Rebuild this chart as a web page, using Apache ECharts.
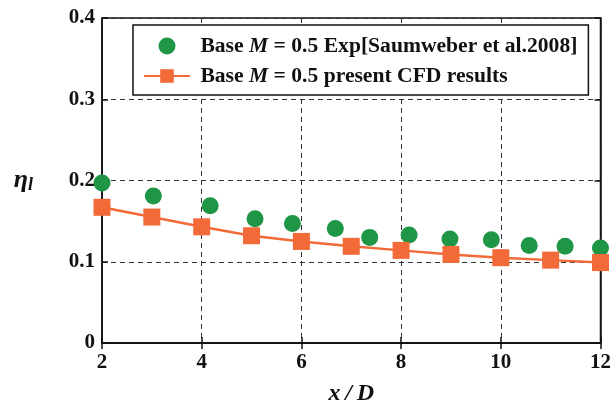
<!DOCTYPE html>
<html><head><meta charset="utf-8">
<script src="https://cdn.jsdelivr.net/npm/echarts@6/dist/echarts.min.js"></script>
<style>html,body{margin:0;padding:0;background:#fff}#c{width:614px;height:411px}</style>
</head><body><div id="c"></div>
<script>
const expX = [2.0, 3.03, 4.17, 5.07, 5.82, 6.68, 7.37, 8.16, 8.98, 9.81, 10.57, 11.29, 12.0];
const expY = [0.197, 0.181, 0.169, 0.153, 0.147, 0.141, 0.130, 0.133, 0.128, 0.127, 0.120, 0.119, 0.117];
const cfdX = [2, 3, 4, 5, 6, 7, 8, 9, 10, 11, 12];
const cfdY = [0.167, 0.155, 0.143, 0.132, 0.125, 0.119, 0.114, 0.109, 0.105, 0.102, 0.099];
const seriesNames = ['Base M = 0.5 Exp[Saumweber et al.2008]', 'Base M = 0.5 present CFD results'];

const serif = '"Liberation Serif", "DejaVu Serif", serif';
const chart = echarts.init(document.getElementById('c'));
const axLabel = {fontFamily: serif, fontWeight: 'bold', fontSize: 21, color: '#111'};
const dashed = {show: true, lineStyle: {color: '#333', type: [5, 4], width: 1}};
const LF = 21.6;
chart.setOption({
  animation: false,
  backgroundColor: '#fff',
  grid: {left: 102, right: 12, top: 18, bottom: 64, show: true, borderColor: '#111', borderWidth: 1.5},
  legend: {
    orient: 'vertical', left: 133, top: 25,
    backgroundColor: '#fff', borderColor: '#111', borderWidth: 1.5,
    padding: [10, 11, 8, 10], itemGap: 8, itemWidth: 46, itemHeight: 17,
    data: seriesNames,
    formatter: function (n) {
      return n.replace('Base M', '{b| Base }{i|M}{b|').replace(/$/, '}');
    },
    textStyle: {
      fontFamily: serif, fontWeight: 'bold', fontSize: LF, color: '#111', lineHeight: 20,
      rich: {
        b: {fontFamily: serif, fontWeight: 'bold', fontSize: LF, color: '#111', lineHeight: 20},
        i: {fontFamily: serif, fontWeight: 'bold', fontStyle: 'italic', fontSize: LF, color: '#111', lineHeight: 20}
      }
    }
  },
  xAxis: [{
    type: 'value', min: 2, max: 12, interval: 2,
    axisLine: {show: true, lineStyle: {color: '#111', width: 1.5}},
    axisTick: {show: true, inside: true, length: 6, lineStyle: {color: '#111', width: 1.5}},
    axisLabel: Object.assign({margin: 9}, axLabel),
    splitLine: dashed,
    name: '{n|x\u2009/\u2009D}', nameLocation: 'middle', nameGap: 39,
    nameTextStyle: {rich: {n: {fontFamily: serif, fontWeight: 'bold', fontStyle: 'italic', fontSize: 24, color: '#111'}}}
  }, {
    type: 'value', min: 2, max: 12, interval: 2, position: 'top',
    axisLine: {show: true, lineStyle: {color: '#111', width: 1.5}},
    axisTick: {show: true, inside: true, length: 6, lineStyle: {color: '#111', width: 1.5}},
    axisLabel: {show: false}, splitLine: {show: false}
  }],
  yAxis: [{
    type: 'value', min: 0, max: 0.4, interval: 0.1,
    axisLine: {show: true, lineStyle: {color: '#111', width: 1.5}},
    axisTick: {show: true, inside: true, length: 6, lineStyle: {color: '#111', width: 1.5}},
    axisLabel: Object.assign({margin: 7}, axLabel),
    splitLine: dashed,
    name: '{a|η}{s|l}', nameLocation: 'middle', nameRotate: 0, nameGap: 69,
    nameTextStyle: {rich: {
      a: {fontFamily: serif, fontWeight: 'bold', fontStyle: 'italic', fontSize: 26, color: '#111'},
      s: {fontFamily: serif, fontWeight: 'bold', fontStyle: 'italic', fontSize: 18, color: '#111', padding: [10, 0, 0, 0]}
    }}
  }, {
    type: 'value', min: 0, max: 0.4, interval: 0.1, position: 'right',
    axisLine: {show: true, lineStyle: {color: '#111', width: 1.5}},
    axisTick: {show: true, inside: true, length: 6, lineStyle: {color: '#111', width: 1.5}},
    axisLabel: {show: false}, splitLine: {show: false}
  }],
  series: [{
    name: seriesNames[0], type: 'scatter', symbol: 'circle', symbolSize: 17,
    itemStyle: {color: '#1e9646', opacity: 1}, z: 3,
    data: expX.map((x, i) => [x, expY[i]])
  }, {
    name: seriesNames[1], type: 'line', symbol: 'rect', symbolSize: 17, showSymbol: true,
    lineStyle: {color: '#f26a38', width: 2.5}, itemStyle: {color: '#f26a38', opacity: 1}, z: 4,
    data: cfdX.map((x, i) => [x, cfdY[i]])
  }]
});
</script></body></html>
